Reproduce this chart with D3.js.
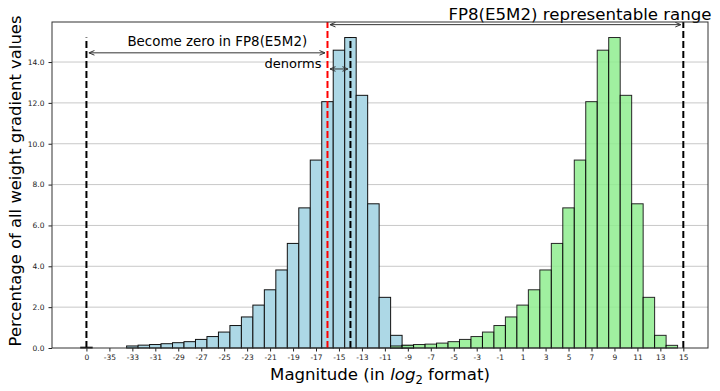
<!DOCTYPE html>
<html>
<head>
<meta charset="utf-8">
<script src="https://cdn.jsdelivr.net/npm/d3@7"></script>
<style>
  body { margin: 0; background: #fff; }
  text { font-family: "DejaVu Sans", sans-serif; }
</style>
</head>
<body>
<script>
// bins in log2 units; -37 is the slot labelled "0" (exact zeros)
var blueBins = [-37, -33, -32, -31, -30, -29, -28, -27, -26, -25, -24, -23, -22, -21, -20,
                -19, -18, -17, -16, -15, -14, -13, -12, -11, -10, -9];
var blueValues = [0.04, 0.10, 0.14, 0.17, 0.21, 0.26, 0.31, 0.42, 0.56, 0.78, 1.10, 1.52, 2.10, 2.85, 3.82,
                  5.12, 6.86, 9.20, 12.06, 14.58, 15.20, 12.37, 7.06, 2.48, 0.62, 0.12];

var greenBins = [-10, -9, -8, -7, -6, -5, -4, -3, -2, -1, 0, 1, 2, 3,
                 4, 5, 6, 7, 8, 9, 10, 11, 12, 13, 14];
var greenValues = [0.10, 0.14, 0.17, 0.19, 0.24, 0.31, 0.42, 0.56, 0.78, 1.10, 1.52, 2.10, 2.85, 3.82,
                   5.12, 6.86, 9.20, 12.06, 14.58, 15.20, 12.37, 7.06, 2.48, 0.62, 0.13];

var xTickValues = [-37, -35, -33, -31, -29, -27, -25, -23, -21, -19, -17, -15, -13, -11,
                   -9, -7, -5, -3, -1, 1, 3, 5, 7, 9, 11, 13, 15];
var xTickLabels = ["0", "-35", "-33", "-31", "-29", "-27", "-25", "-23", "-21", "-19", "-17", "-15", "-13", "-11",
                   "-9", "-7", "-5", "-3", "-1", "1", "3", "5", "7", "9", "11", "13", "15"];
var yTickValues = [0, 2, 4, 6, 8, 10, 12, 14];

var width = 720, height = 391;
var plot = {left: 52, right: 708, top: 22, bottom: 348};

var xScale = d3.scaleLinear().domain([-40, 17.15]).range([plot.left, plot.right]);
var yScale = d3.scaleLinear().domain([0, 15.96]).range([plot.bottom, plot.top]);
var unit = xScale(1) - xScale(0);

var svg = d3.select("body").append("svg")
    .attr("width", width)
    .attr("height", height);

var defs = svg.append("defs");
defs.append("marker")
    .attr("id", "head")
    .attr("viewBox", "-6 -3 7 6")
    .attr("refX", 0).attr("refY", 0)
    .attr("markerWidth", 7).attr("markerHeight", 6)
    .attr("markerUnits", "userSpaceOnUse")
    .attr("orient", "auto-start-reverse")
    .append("path")
    .attr("d", "M-5.5,-2.3 L0,0 L-5.5,2.3")
    .attr("fill", "none")
    .attr("stroke", "#333")
    .attr("stroke-width", 1);

// grid
svg.append("g").selectAll("line")
    .data(yTickValues.slice(1))
    .enter().append("line")
    .attr("x1", plot.left).attr("x2", plot.right)
    .attr("y1", function(d) { return yScale(d); })
    .attr("y2", function(d) { return yScale(d); })
    .attr("stroke", "#c8c8c8")
    .attr("stroke-width", 1);

// blue histogram (unscaled)
svg.append("g").selectAll("rect")
    .data(blueValues)
    .enter().append("rect")
    .attr("x", function(d, i) { return xScale(blueBins[i] - 0.5); })
    .attr("y", function(d) { return yScale(d); })
    .attr("width", unit)
    .attr("height", function(d) { return yScale(0) - yScale(d); })
    .attr("fill", "#add8e6")
    .attr("stroke", "#111")
    .attr("stroke-width", 1);

// green histogram (scaled)
svg.append("g").selectAll("rect")
    .data(greenValues)
    .enter().append("rect")
    .attr("x", function(d, i) { return xScale(greenBins[i] - 0.5); })
    .attr("y", function(d) { return yScale(d); })
    .attr("width", unit)
    .attr("height", function(d) { return yScale(0) - yScale(d); })
    .attr("fill", "#90ee90")
    .attr("stroke", "#000")
    .attr("stroke-width", 1)
    .attr("opacity", 0.85);

// vertical markers
var vlines = [
    {x: -37, top: 15.2, color: "black"},
    {x: -14, top: 15.2, color: "black"},
    {x: 15, top: 15.96, color: "black"},
    {x: -16, top: 15.96, color: "red"}
];
svg.append("g").selectAll("line")
    .data(vlines)
    .enter().append("line")
    .attr("x1", function(d) { return xScale(d.x); })
    .attr("x2", function(d) { return xScale(d.x); })
    .attr("y1", yScale(0))
    .attr("y2", function(d) { return yScale(d.top); })
    .attr("stroke", function(d) { return d.color; })
    .attr("stroke-width", 2)
    .attr("stroke-dasharray", "7,3");

// double arrows
var arrows = [
    {x1: -16, x2: 15, y: 15.83},
    {x1: -37, x2: -16, y: 14.45},
    {x1: -16, x2: -14, y: 13.66}
];
svg.append("g").selectAll("line")
    .data(arrows)
    .enter().append("line")
    .attr("x1", function(d) { return xScale(d.x1) + 2.5; })
    .attr("x2", function(d) { return xScale(d.x2) - 2.5; })
    .attr("y1", function(d) { return yScale(d.y); })
    .attr("y2", function(d) { return yScale(d.y); })
    .attr("stroke", "#333")
    .attr("stroke-width", 1)
    .attr("marker-start", "url(#head)")
    .attr("marker-end", "url(#head)");

// annotation text
svg.append("text")
    .attr("x", xScale(6)).attr("y", yScale(16.05))
    .attr("text-anchor", "middle")
    .style("font-size", "16.6px")
    .text("FP8(E5M2) representable range");
svg.append("text")
    .attr("x", xScale(-25.6)).attr("y", yScale(14.77))
    .attr("text-anchor", "middle")
    .style("font-size", "13.4px")
    .text("Become zero in FP8(E5M2)");
svg.append("text")
    .attr("x", xScale(-16) - 6).attr("y", yScale(13.69))
    .attr("text-anchor", "end")
    .style("font-size", "13px")
    .text("denorms");

// axes
var xAxis = d3.axisBottom(xScale)
    .tickValues(xTickValues)
    .tickFormat(function(d, i) { return xTickLabels[i]; })
    .tickSize(3.5)
    .tickSizeOuter(0)
    .tickPadding(3.5);
var yAxis = d3.axisLeft(yScale)
    .tickValues(yTickValues)
    .tickFormat(d3.format(".1f"))
    .tickSize(3.5)
    .tickSizeOuter(0)
    .tickPadding(4);

var gx = svg.append("g")
    .attr("transform", "translate(0," + plot.bottom + ")")
    .call(xAxis);
var gy = svg.append("g")
    .attr("transform", "translate(" + plot.left + ",0)")
    .call(yAxis);
[gx, gy].forEach(function(g) {
    g.select(".domain").remove();
    g.selectAll("text").style("font-size", "7.5px").attr("fill", "#222")
        .style("font-family", "'DejaVu Sans', sans-serif");
    g.selectAll("line").attr("stroke", "#222");
});

// frame
svg.append("rect")
    .attr("x", plot.left).attr("y", plot.top)
    .attr("width", plot.right - plot.left)
    .attr("height", plot.bottom - plot.top)
    .attr("fill", "none")
    .attr("stroke", "#333")
    .attr("stroke-width", 1);

// axis titles
var xl = svg.append("text")
    .attr("x", (plot.left + plot.right) / 2)
    .attr("y", 380)
    .attr("text-anchor", "middle")
    .style("font-size", "16.6px");
xl.append("tspan").text("Magnitude (in ");
xl.append("tspan").style("font-style", "italic").text("log");
xl.append("tspan").attr("dy", 4).style("font-size", "11.6px").text("2");
xl.append("tspan").attr("dy", -4).text(" format)");

svg.append("text")
    .attr("transform", "translate(21," + 181 + ") rotate(-90)")
    .attr("text-anchor", "middle")
    .style("font-size", "16.4px")
    .text("Percentage of all weight gradient values");
</script>
</body>
</html>
